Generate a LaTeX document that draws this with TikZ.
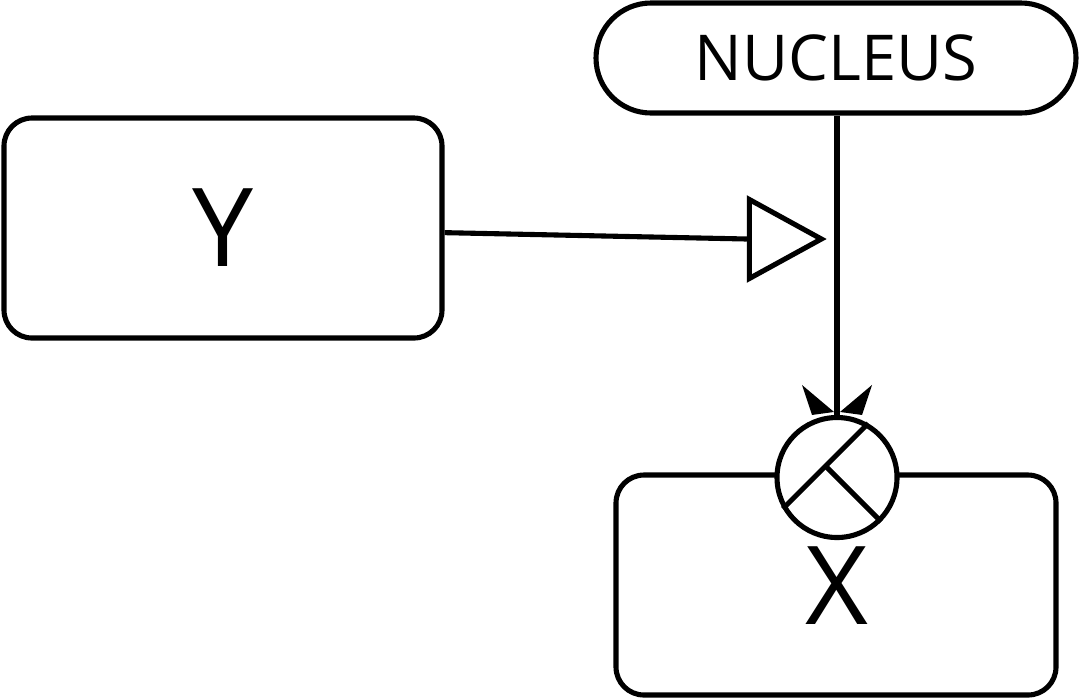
\documentclass[tikz,border=0pt]{standalone}
\usepackage{fontspec}
\setmainfont{Open Sans}
\usetikzlibrary{shapes.geometric,shapes.misc,calc}

\begin{document}
\begin{tikzpicture}[line width=1.45pt, every node/.style={draw, fill=white, inner sep=0pt},
		box/.style={rectangle, rounded corners=0.28cm, minimum width=4.38cm, minimum height=2.2cm, font=\fontsize{31}{36}\selectfont},
		pill/.style={rounded rectangle, minimum width=4.8cm, minimum height=1.1cm, font=\fontsize{18}{22}\selectfont},
		gain/.style={isosceles triangle, isosceles triangle stretches, minimum width=0.79cm, minimum height=0.72cm},
		sensor/.style={circle, minimum size=1.2cm}]
		\useasboundingbox (0,0) rectangle (10.8,-6.98);
		\node[box] (Y) at (2.23,-2.28) {Y};
		\node[pill] (nucleus) at (8.36,-0.58) {NUCLEUS};
		\node[box, minimum width=4.4cm] (X) at (8.36,-5.85) {};
		\node[draw=none, fill=none, font=\fontsize{31}{36}\selectfont] (Xlabel) at (8.37,-5.86) {X};
		\node[sensor] (lamp) at (8.37,-4.775) {};
		\node[gain, anchor=apex] (amp) at (8.28,-2.39) {};
		\draw (Y) -- (amp.west);
		\draw (nucleus.south -| lamp.north) -- (lamp.north);
		% symbol inside the circle
		\draw (lamp.210) -- (lamp.60);
		\draw ($(lamp.center)+(-0.11,0.11)$) -- (lamp.-45);
		% barbs on top of the circle
		\fill ($(lamp.north)+(-0.35,0.30)$) -- ($(lamp.north)+(-0.25,0.0)$) -- ($(lamp.north)+(-0.03,0.03)$) -- cycle;
		\fill ($(lamp.north)+(0.35,0.30)$) -- ($(lamp.north)+(0.25,0.0)$) -- ($(lamp.north)+(0.03,0.03)$) -- cycle;
	\end{tikzpicture}
\end{document}
